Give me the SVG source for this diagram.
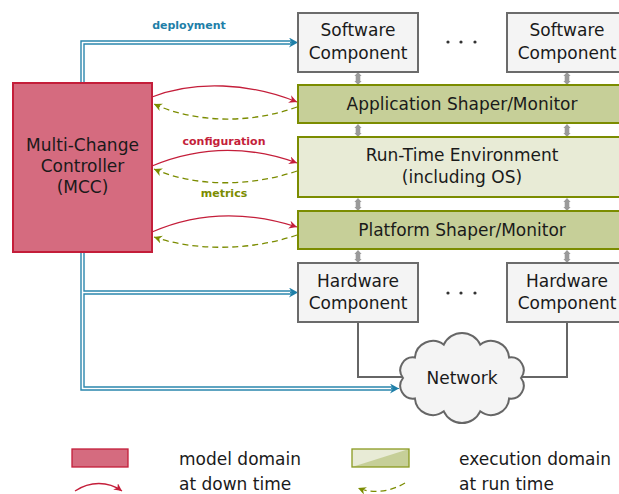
<svg xmlns="http://www.w3.org/2000/svg" width="619" height="494" viewBox="0 0 619 494">
<style>
text{font-family:"DejaVu Sans","Liberation Sans",sans-serif;fill:#1a1a1a}
.t{font-size:17px;text-anchor:middle}
.lg{font-size:17px}
.lbl{font-size:11px;font-weight:bold;text-anchor:middle}
.gbox{fill:#f4f4f4;stroke:#6b6b6b;stroke-width:2}
.shp{fill:#c6cf98;stroke:#7b8c00;stroke-width:2}
.rte{fill:#e8ebd6;stroke:#7b8c00;stroke-width:2}
.mcc{fill:#d56b7f;stroke:#c41e3a;stroke-width:2}
.red{fill:none;stroke:#c41e3a;stroke-width:1.3;marker-end:url(#ar)}
.grn{fill:none;stroke:#7b8c00;stroke-width:1.3;stroke-dasharray:6 4;marker-end:url(#ag)}
.dbo{fill:none;stroke:#2a86ad;stroke-width:4.4}
.dbi{fill:none;stroke:#ffffff;stroke-width:1.6}
.net{fill:none;stroke:#666;stroke-width:2}
.garr{fill:#9a9a9a}
</style>
<defs>
<marker id="ar" markerUnits="userSpaceOnUse" markerWidth="10" markerHeight="10" refX="8" refY="4" orient="auto"><path d="M0,0 L8,4 L0,8 L2.5,4 z" fill="#c41e3a"/></marker>
<marker id="ag" markerUnits="userSpaceOnUse" markerWidth="10" markerHeight="10" refX="8" refY="4" orient="auto"><path d="M0,0 L8,4 L0,8 L2.5,4 z" fill="#7b8c00"/></marker>
<marker id="ab" markerUnits="userSpaceOnUse" markerWidth="12" markerHeight="12" refX="9" refY="5" orient="auto"><path d="M0,0 L9,5 L0,10 L3,5 z" fill="#1f7fa8"/></marker>
<path id="dba" class="garr" d="M0,0 L3.6,4 L2.3,4 L2.3,9 L3.6,9 L0,13 L-3.6,9 L-2.3,9 L-2.3,4 L-3.6,4 Z"/>
</defs>

<g id="connectors">
  <!-- layer links -->
  <use href="#dba" x="358" y="72"/>
  <use href="#dba" x="567" y="72"/>
  <use href="#dba" x="358" y="124"/>
  <use href="#dba" x="567" y="124"/>
  <use href="#dba" x="358" y="198"/>
  <use href="#dba" x="567" y="198"/>
  <use href="#dba" x="358" y="250"/>
  <use href="#dba" x="567" y="250"/>
  <!-- network links -->
  <path class="net" d="M358,323 V377 H410"/>
  <path class="net" d="M567,323 V377 H515"/>
  <!-- deployment -->
  <path class="dbo" d="M82.5,83 V42.5 H292"/>
  <path class="dbi" d="M82.5,83 V42.5 H293"/>
  <path class="dbo" d="M82.5,252 V388.5 H394"/>
  <path class="dbo" d="M82.5,292.5 H292"/>
  <path class="dbi" d="M82.5,252 V388.5 H395"/>
  <path class="dbi" d="M82.5,292.5 H293"/>
  <path d="M391,388.5 H399" stroke="#2a86ad" stroke-width="1" marker-end="url(#ab)"/>
  <path d="M290,292.5 H298" stroke="#2a86ad" stroke-width="1" marker-end="url(#ab)"/>
  <path d="M290,42.5 H298" stroke="#2a86ad" stroke-width="1" marker-end="url(#ab)"/>
  <text class="lbl" x="189" y="29" style="fill:#1f7fa8">deployment</text>
  <!-- configuration / metrics -->
  <path class="red" d="M152,97 C195,80 250,83 297,102"/>
  <path class="grn" d="M297,107 C250,124 195,123 154,104"/>
  <path class="red" d="M152,166 C200,146 250,146 297,163"/>
  <path class="grn" d="M297,171 C250,187 195,187 154,169"/>
  <path class="red" d="M152,232 C200,211 250,212 297,227"/>
  <path class="grn" d="M297,235 C250,251 195,251 154,237"/>
  <text class="lbl" x="224" y="145" style="fill:#c41e3a">configuration</text>
  <text class="lbl" x="224" y="197" style="fill:#7b8c00">metrics</text>
</g>

<g id="mcc">
  <rect class="mcc" x="13" y="83" width="139" height="169"/>
  <text class="t" x="82.5" y="151">Multi-Change</text>
  <text class="t" x="82.5" y="172">Controller</text>
  <text class="t" x="82.5" y="193">(MCC)</text>
</g>

<g id="sw1">
  <rect class="gbox" x="298" y="13" width="120" height="59"/>
  <text class="t" x="358" y="36">Software</text>
  <text class="t" x="358" y="59">Component</text>
</g>
<g id="sw-dots" fill="#333">
  <circle cx="448" cy="42" r="1.6"/><circle cx="461" cy="42" r="1.6"/><circle cx="475" cy="42" r="1.6"/>
</g>
<g id="sw2">
  <rect class="gbox" x="507" y="13" width="120" height="59"/>
  <text class="t" x="567" y="36">Software</text>
  <text class="t" x="567" y="59">Component</text>
</g>

<g id="app">
  <rect class="shp" x="298" y="85" width="330" height="38"/>
  <text class="t" x="462" y="110">Application Shaper/Monitor</text>
</g>
<g id="rte">
  <rect class="rte" x="298" y="137" width="330" height="60"/>
  <text class="t" x="462" y="161">Run-Time Environment</text>
  <text class="t" x="462" y="183">(including OS)</text>
</g>
<g id="platform">
  <rect class="shp" x="298" y="211" width="330" height="38"/>
  <text class="t" x="462" y="236">Platform Shaper/Monitor</text>
</g>

<g id="hw1">
  <rect class="gbox" x="298" y="263" width="120" height="59"/>
  <text class="t" x="358" y="287">Hardware</text>
  <text class="t" x="358" y="309">Component</text>
</g>
<g id="hw-dots" fill="#333">
  <circle cx="448" cy="293" r="1.6"/><circle cx="461" cy="293" r="1.6"/><circle cx="475" cy="293" r="1.6"/>
</g>
<g id="hw2">
  <rect class="gbox" x="507" y="263" width="120" height="59"/>
  <text class="t" x="567" y="287">Hardware</text>
  <text class="t" x="567" y="309">Component</text>
</g>

<g id="network">
  <path d="M403,378 A12.8,12.8 0 0 1 414.9,357.5 A18,18 0 0 1 443.8,344.7 A20,20 0 0 1 480.2,344.7 A18,18 0 0 1 509.1,357.5 A12.8,12.8 0 0 1 521,378 A12.8,12.8 0 0 1 509.1,398.5 A18,18 0 0 1 480.2,411.3 A20,20 0 0 1 443.8,411.3 A18,18 0 0 1 414.9,398.5 A12.8,12.8 0 0 1 403,378 Z" fill="#f4f4f4" stroke="#666" stroke-width="2"/>
  <text class="t" x="462" y="384">Network</text>
</g>

<g id="legend">
  <rect x="72" y="449" width="56" height="18" fill="#d56b7f" stroke="#c41e3a" stroke-width="1.3"/>
  <text class="lg" x="179" y="465">model domain</text>
  <rect x="352" y="449" width="57" height="18" fill="#e8ebd6"/>
  <polygon points="352,467 409,449 409,467" fill="#c6cf98"/>
  <rect x="352" y="449" width="57" height="18" fill="none" stroke="#8a9a20" stroke-width="1.3"/>
  <text class="lg" x="459" y="465">execution domain</text>
  <path class="red" d="M75,491 C90,481 108,481 122,491"/>
  <text class="lg" x="179" y="490">at down time</text>
  <path class="grn" d="M405,483 C390,492 373,494 358,488"/>
  <text class="lg" x="459" y="490">at run time</text>
</g>
</svg>
